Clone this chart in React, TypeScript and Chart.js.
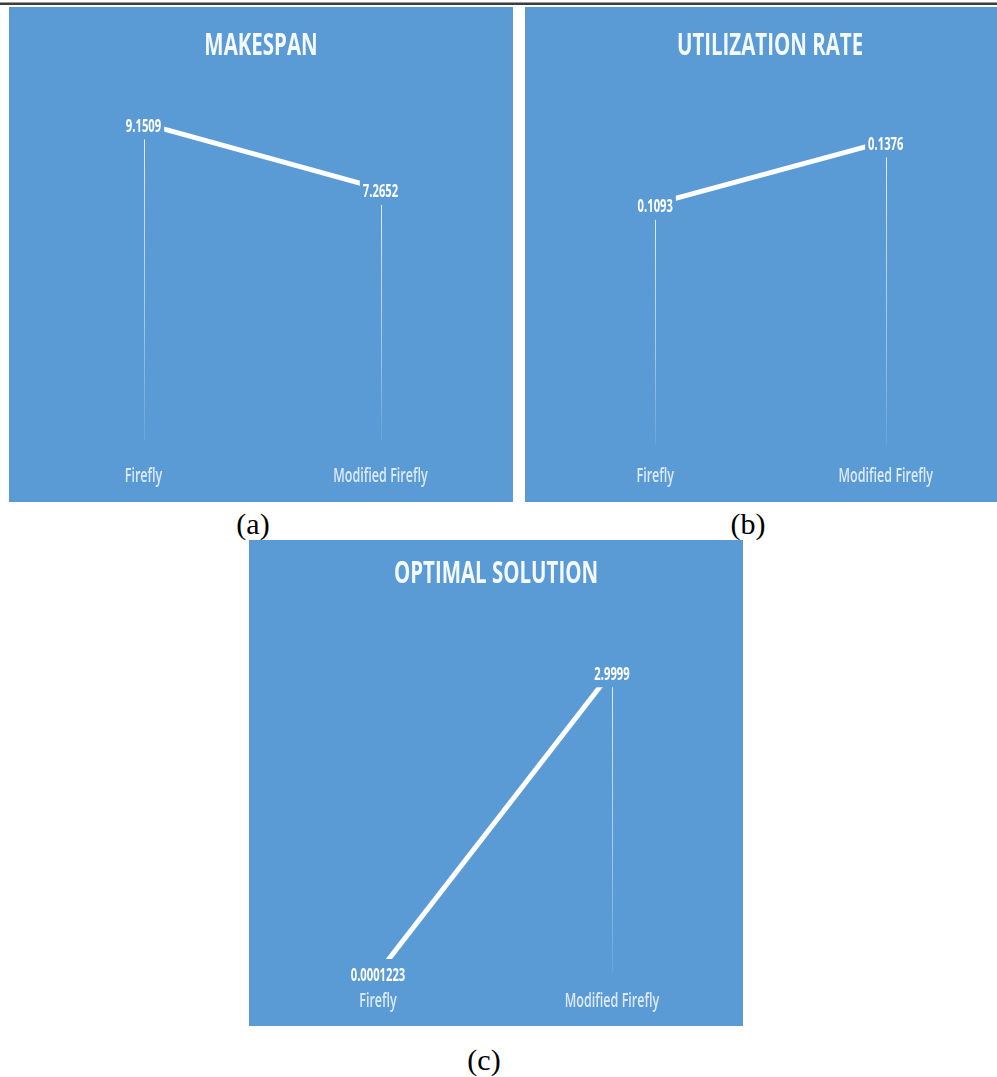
import React, { useEffect, useRef } from "react";
import { Chart, registerables } from "chart.js";

Chart.register(...registerables);

// ---- data ----
const categories = ["Firefly", "Modified Firefly"];

const makespanValues = [9.1509, 7.2652];
const makespanLabels = ["9.1509", "7.2652"];
const makespanMax = 10;

const utilizationValues = [0.1093, 0.1376];
const utilizationLabels = ["0.1093", "0.1376"];
const utilizationMax = 0.16;

const optimalValues = [0.0001223, 2.9999];
const optimalLabels = ["0.0001223", "2.9999"];
const optimalMax = 3.5;

// ---- styling ----
const PANEL_BG = "#5B9BD5";
const FONT = "'Open Sans', 'Liberation Sans', sans-serif";
const SQUEEZE = 0.66; // narrow lettering used throughout the panels

type PanelProps = {
  title: string;
  values: number[];
  labels: string[];
  yMax: number;
  width: number;
  height: number;
  clipWidth?: number;
  left: number;
  top: number;
  padding: { left: number; right: number; top: number; bottom: number };
  titleBaseline: number;
  categoryBaseline: number;
};

function squeezedText(ctx: CanvasRenderingContext2D, text: string, x: number, y: number) {
  const w = ctx.measureText(text).width;
  ctx.fillText(text, x, y, w * SQUEEZE);
}

function makeDecorPlugin(p: PanelProps) {
  return {
    id: "panelDecor",
    beforeDraw(chart: any) {
      const ctx: CanvasRenderingContext2D = chart.ctx;
      ctx.save();
      ctx.fillStyle = PANEL_BG;
      ctx.fillRect(0, 0, chart.width, chart.height);

      // title
      ctx.fillStyle = "#F4F9FD";
      ctx.font = `bold 31px ${FONT}`;
      ctx.textAlign = "center";
      ctx.textBaseline = "alphabetic";
      squeezedText(ctx, p.title, chart.width / 2, p.titleBaseline);

      // category labels under each point
      const xScale = chart.scales.x;
      ctx.fillStyle = "#DCEAF7";
      ctx.font = `600 19px ${FONT}`;
      categories.forEach((c, i) => {
        squeezedText(ctx, c, xScale.getPixelForValue(i), p.categoryBaseline);
      });
      ctx.restore();
    },
    beforeDatasetsDraw(chart: any) {
      // drop lines from each point to the category axis, fading downwards
      const ctx: CanvasRenderingContext2D = chart.ctx;
      const meta = chart.getDatasetMeta(0);
      const bottom = chart.chartArea.bottom;
      ctx.save();
      ctx.lineWidth = 1;
      meta.data.forEach((pt: any) => {
        if (bottom - pt.y < 2) return;
        const x = Math.round(pt.x) + 0.5;
        const g = ctx.createLinearGradient(0, pt.y, 0, bottom);
        g.addColorStop(0, "rgba(255,255,255,0.85)");
        g.addColorStop(0.6, "rgba(255,255,255,0.45)");
        g.addColorStop(1, "rgba(255,255,255,0.08)");
        ctx.strokeStyle = g;
        ctx.beginPath();
        ctx.moveTo(x, pt.y);
        ctx.lineTo(x, bottom);
        ctx.stroke();
      });
      ctx.restore();
    },
    afterDatasetsDraw(chart: any) {
      // value labels on a panel-coloured box centred on each point
      const ctx: CanvasRenderingContext2D = chart.ctx;
      const meta = chart.getDatasetMeta(0);
      ctx.save();
      ctx.font = `bold 17px ${FONT}`;
      ctx.textAlign = "center";
      ctx.textBaseline = "alphabetic";
      meta.data.forEach((pt: any, i: number) => {
        const text = p.labels[i];
        const tw = ctx.measureText(text).width * SQUEEZE;
        const bw = tw + 6;
        ctx.fillStyle = PANEL_BG;
        ctx.fillRect(pt.x - bw / 2, pt.y - 14, bw, 30);
        ctx.fillStyle = "#FFFFFF";
        squeezedText(ctx, text, pt.x, pt.y + 8.5);
      });
      ctx.restore();
    },
  };
}

function Panel(p: PanelProps) {
  const ref = useRef<HTMLCanvasElement | null>(null);

  useEffect(() => {
    if (!ref.current) return;
    const chart = new Chart(ref.current, {
      type: "line",
      data: {
        labels: categories,
        datasets: [
          {
            data: p.values,
            borderColor: "#FFFFFF",
            borderWidth: 5,
            pointRadius: 0,
            tension: 0,
            fill: false,
          },
        ],
      },
      options: {
        animation: false,
        responsive: false,
        maintainAspectRatio: false,
        devicePixelRatio: 1,
        events: [],
        layout: { padding: p.padding },
        plugins: {
          legend: { display: false },
          title: { display: false },
          tooltip: { enabled: false },
        },
        scales: {
          x: { type: "category", offset: true, display: false },
          y: { min: 0, max: p.yMax, display: false },
        },
      },
      plugins: [makeDecorPlugin(p)],
    });
    return () => chart.destroy();
  }, []);

  return (
    <div
      style={{
        position: "absolute",
        left: p.left,
        top: p.top,
        width: p.clipWidth ?? p.width,
        height: p.height,
        overflow: "hidden",
      }}
    >
      <canvas ref={ref} width={p.width} height={p.height} style={{ width: p.width, height: p.height, display: "block" }} />
    </div>
  );
}

function Caption({ text, x, y }: { text: string; x: number; y: number }) {
  return (
    <div
      style={{
        position: "absolute",
        left: x,
        top: y,
        transform: "translate(-50%, -50%)",
        fontFamily: "'Liberation Serif', 'Times New Roman', serif",
        fontSize: 30,
        lineHeight: "34px",
        color: "#000",
        whiteSpace: "nowrap",
      }}
    >
      {text}
    </div>
  );
}

export default function App() {
  return (
    <div style={{ position: "absolute", left: 0, top: 0, width: 997, height: 1077, background: "#fff", overflow: "hidden" }}>
      <div style={{ position: "absolute", left: 0, top: 2, width: 997, height: 1, background: "#9a9a9a" }} />
      <div style={{ position: "absolute", left: 0, top: 3, width: 997, height: 2, background: "#3c3c3c" }} />

      <Panel
        title="MAKESPAN"
        values={makespanValues}
        labels={makespanLabels}
        yMax={makespanMax}
        left={9}
        top={7}
        width={504}
        height={495}
        padding={{ left: 16, right: 14, top: 87, bottom: 61 }}
        titleBaseline={48}
        categoryBaseline={475}
      />
      <Panel
        title="UTILIZATION RATE"
        values={utilizationValues}
        labels={utilizationLabels}
        yMax={utilizationMax}
        left={525}
        top={7}
        width={490}
        clipWidth={472}
        height={495}
        padding={{ left: 15, right: 14, top: 85, bottom: 57 }}
        titleBaseline={48}
        categoryBaseline={475}
      />
      <Caption text="(a)" x={253} y={524} />
      <Caption text="(b)" x={748} y={524} />

      <Panel
        title="OPTIMAL SOLUTION"
        values={optimalValues}
        labels={optimalLabels}
        yMax={optimalMax}
        left={249}
        top={540}
        width={494}
        height={486}
        padding={{ left: 12, right: 14, top: 81, bottom: 53 }}
        titleBaseline={43}
        categoryBaseline={467}
      />
      <Caption text="(c)" x={484} y={1060} />
    </div>
  );
}
